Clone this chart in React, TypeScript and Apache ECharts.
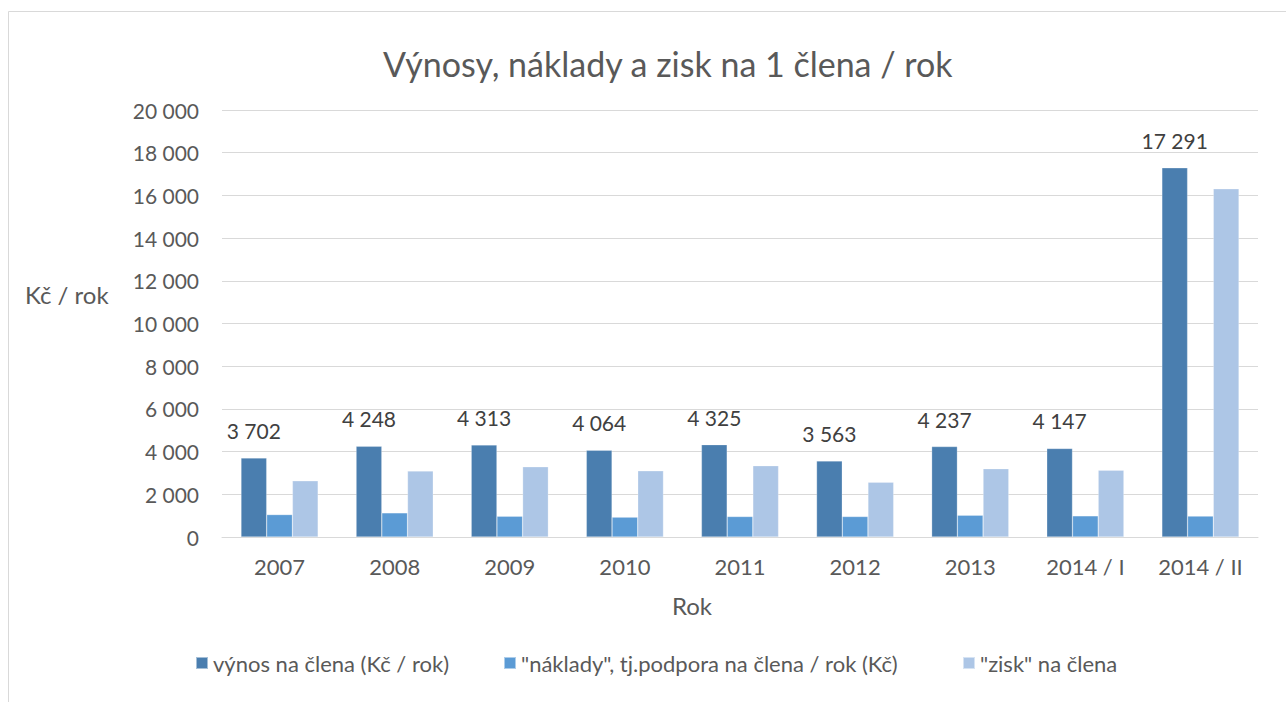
import React, { useEffect, useRef } from "react";
import * as echarts from "echarts";

const categories = ["2007", "2008", "2009", "2010", "2011", "2012", "2013", "2014 / I", "2014 / II"];
const vynos = [3702, 4248, 4313, 4064, 4325, 3563, 4237, 4147, 17291];
const naklady = [1050, 1130, 970, 930, 960, 960, 1020, 990, 980];
const zisk = [2630, 3090, 3290, 3100, 3340, 2570, 3200, 3130, 16310];
const seriesNames = [
  "výnos na člena (Kč / rok)",
  "\"náklady\", tj.podpora na člena / rok (Kč)",
  "\"zisk\" na člena",
];
const colors = ["#4A7EAF", "#5B9BD5", "#ADC6E6"];

const FONT = "Lato, 'Noto Sans', sans-serif";
const TXT = "#595959";

function fmt(v: number): string {
  return String(Math.round(v)).replace(/\B(?=(\d{3})+(?!\d))/g, " ");
}

export default function App() {
  const ref = useRef<HTMLDivElement>(null);
  useEffect(() => {
    document.body.style.margin = "0";
    if (!ref.current) return;
    const chart = echarts.init(ref.current, null, { renderer: "svg" });
    const seriesData = [vynos, naklady, zisk];
    chart.setOption({
      animation: false,
      backgroundColor: "#ffffff",
      textStyle: { fontFamily: FONT },
      title: {
        text: "Výnosy, náklady a zisk na 1 člena / rok",
        left: 378,
        top: 41,
        textStyle: { fontFamily: FONT, fontSize: 34, fontWeight: "normal", color: TXT },
      },
      grid: { left: 222, right: 28, top: 110, bottom: 165, containLabel: false },
      legend: [0, 1, 2].map((i) => ({
        data: [seriesNames[i]],
        left: [195, 503, 962][i],
        top: 652,
        padding: 0,
        itemWidth: 12,
        itemHeight: 12,
        icon: "rect",
        itemGap: 4,
        textStyle: { fontFamily: FONT, fontSize: 22, color: TXT },
      })),
      xAxis: {
        type: "category",
        data: categories,
        axisLine: { lineStyle: { color: "#d9d9d9", width: 1 } },
        axisTick: { show: false },
        axisLabel: { fontFamily: FONT, fontSize: 22, color: TXT, margin: 18 },
      },
      yAxis: {
        type: "value",
        min: 0,
        max: 20000,
        interval: 2000,
        axisLine: { show: false },
        axisTick: { show: false },
        splitLine: { lineStyle: { color: "#d9d9d9", width: 1 } },
        axisLabel: {
          fontFamily: FONT,
          fontSize: 21,
          color: TXT,
          margin: 23,
          formatter: (v: number) => fmt(v),
        },
      },
      series: [0, 1, 2].map((i) => ({
        name: seriesNames[i],
        type: "bar",
        data: seriesData[i],
        barGap: "0%",
        barCategoryGap: "33%",
        itemStyle: { color: colors[i], borderColor: "rgba(255,255,255,0.5)", borderWidth: 0.5 },
        label:
          i === 0
            ? {
                show: true,
                position: "top",
                distance: 17,
                fontFamily: FONT,
                fontSize: 21,
                color: "#404040",
                formatter: (p: any) => fmt(p.value),
              }
            : { show: false },
      })),
      graphic: [
        {
          type: "rect",
          shape: { x: 8.5, y: 11.5, width: 1300, height: 720 },
          style: { fill: "none", stroke: "#d9d9d9", lineWidth: 1 },
          silent: true,
        },
        {
          type: "text",
          left: 25,
          top: 282,
          style: { text: "Kč / rok", fontFamily: FONT, fontSize: 24, fill: TXT },
        },
        {
          type: "text",
          left: 672,
          top: 593,
          style: { text: "Rok", fontFamily: FONT, fontSize: 24, fill: TXT },
        },
      ],
    });
    return () => chart.dispose();
  }, []);
  return <div ref={ref} style={{ width: 1286, height: 702 }} />;
}
